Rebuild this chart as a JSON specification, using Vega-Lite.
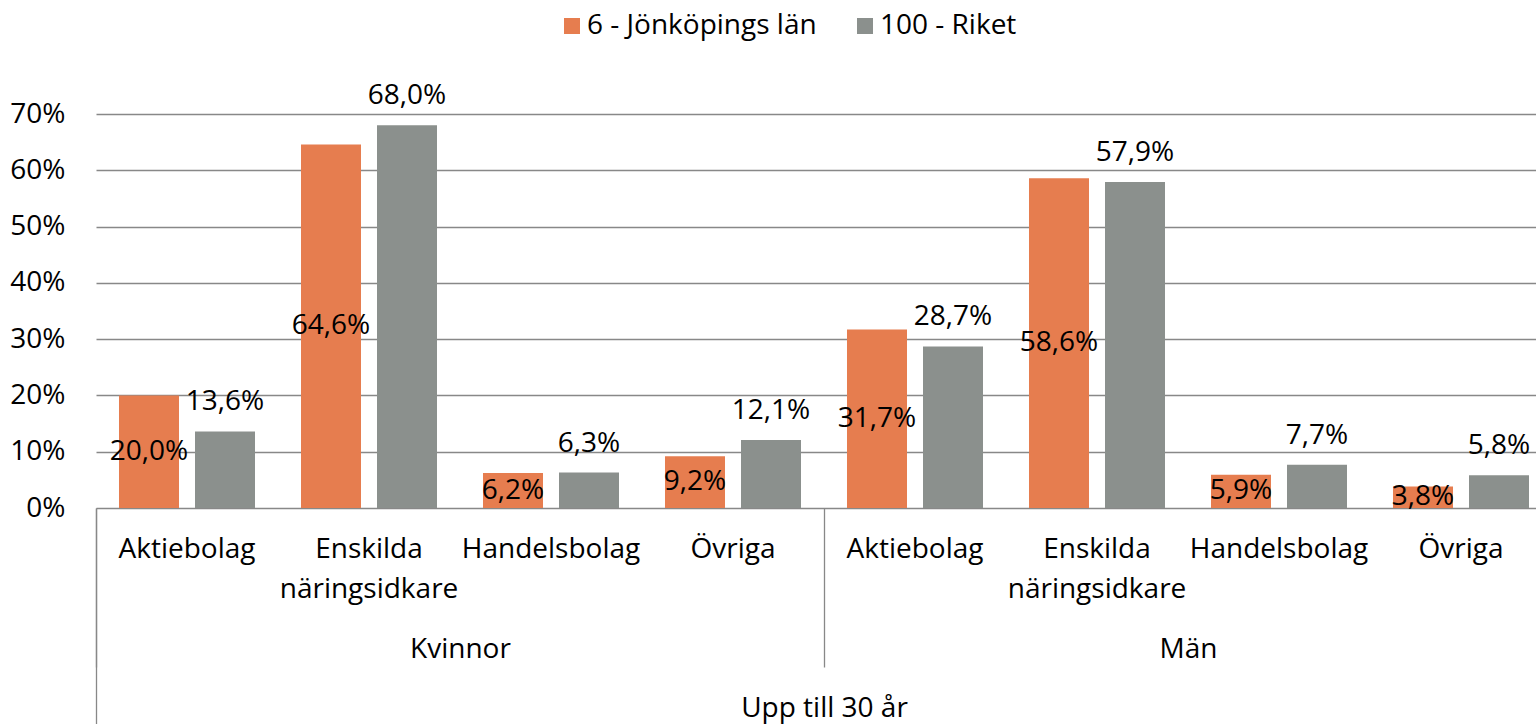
{
  "$schema": "https://vega.github.io/schema/vega-lite/v6.json",
  "width": 1456,
  "height": 394,
  "autosize": {"type": "none"},
  "padding": {"left": 96, "top": 114, "right": -16, "bottom": 216},
  "background": "white",
  "config": {
    "font": "Open Sans",
    "view": {"stroke": null},
    "locale": {"number": {"decimal": ",", "thousands": " ", "grouping": [3], "currency": ["", " kr"], "percent": "%"}},
    "axis": {"labelFont": "Open Sans", "labelFontSize": 28, "labelColor": "#000000", "title": null}
  },
  "data": {
    "values": [
      {"alder": "Upp till 30 år", "kon": "Kvinnor", "grupp": "Kvinnor/Aktiebolag", "serie": "6 - Jönköpings län", "andel": 0.200},
      {"alder": "Upp till 30 år", "kon": "Kvinnor", "grupp": "Kvinnor/Aktiebolag", "serie": "100 - Riket", "andel": 0.136},
      {"alder": "Upp till 30 år", "kon": "Kvinnor", "grupp": "Kvinnor/Enskilda näringsidkare", "serie": "6 - Jönköpings län", "andel": 0.646},
      {"alder": "Upp till 30 år", "kon": "Kvinnor", "grupp": "Kvinnor/Enskilda näringsidkare", "serie": "100 - Riket", "andel": 0.680},
      {"alder": "Upp till 30 år", "kon": "Kvinnor", "grupp": "Kvinnor/Handelsbolag", "serie": "6 - Jönköpings län", "andel": 0.062},
      {"alder": "Upp till 30 år", "kon": "Kvinnor", "grupp": "Kvinnor/Handelsbolag", "serie": "100 - Riket", "andel": 0.063},
      {"alder": "Upp till 30 år", "kon": "Kvinnor", "grupp": "Kvinnor/Övriga", "serie": "6 - Jönköpings län", "andel": 0.092},
      {"alder": "Upp till 30 år", "kon": "Kvinnor", "grupp": "Kvinnor/Övriga", "serie": "100 - Riket", "andel": 0.121},
      {"alder": "Upp till 30 år", "kon": "Män", "grupp": "Män/Aktiebolag", "serie": "6 - Jönköpings län", "andel": 0.317},
      {"alder": "Upp till 30 år", "kon": "Män", "grupp": "Män/Aktiebolag", "serie": "100 - Riket", "andel": 0.287},
      {"alder": "Upp till 30 år", "kon": "Män", "grupp": "Män/Enskilda näringsidkare", "serie": "6 - Jönköpings län", "andel": 0.586},
      {"alder": "Upp till 30 år", "kon": "Män", "grupp": "Män/Enskilda näringsidkare", "serie": "100 - Riket", "andel": 0.579},
      {"alder": "Upp till 30 år", "kon": "Män", "grupp": "Män/Handelsbolag", "serie": "6 - Jönköpings län", "andel": 0.059},
      {"alder": "Upp till 30 år", "kon": "Män", "grupp": "Män/Handelsbolag", "serie": "100 - Riket", "andel": 0.077},
      {"alder": "Upp till 30 år", "kon": "Män", "grupp": "Män/Övriga", "serie": "6 - Jönköpings län", "andel": 0.038},
      {"alder": "Upp till 30 år", "kon": "Män", "grupp": "Män/Övriga", "serie": "100 - Riket", "andel": 0.058}
    ]
  },
  "layer": [
    {
      "encoding": {
        "x": {
          "field": "grupp", "type": "nominal", "sort": null,
          "scale": {"paddingInner": 0, "paddingOuter": 0},
          "axis": {"orient": "bottom", "title": null, "domain": false, "ticks": false, "grid": false, "labelAngle": 0, "labelPadding": 27, "labelLineHeight": 40, "labelLimit": 500, "labelExpr": "split(split(datum.value, '/')[1], ' ')", "labelFontSize": 28, "labelColor": "#000000"}
        },
        "xOffset": {"field": "serie", "type": "nominal", "sort": ["6 - Jönköpings län", "100 - Riket"], "scale": {"paddingInner": 0.2105, "paddingOuter": 0.3026}}
      },
      "layer": [
        {
          "mark": {"type": "bar"},
          "encoding": {
            "y": {
              "field": "andel", "type": "quantitative",
              "scale": {"domain": [0, 0.7], "nice": false, "zero": true},
              "axis": {"title": null, "format": ".0%", "values": [0, 0.1, 0.2, 0.3, 0.4, 0.5, 0.6, 0.7], "domain": false, "ticks": false, "grid": true, "gridColor": "#888888", "gridWidth": 1.3, "labelPadding": 31, "labelFontSize": 28, "labelColor": "#000000"}
            },
            "color": {
              "field": "serie", "type": "nominal",
              "scale": {"domain": ["6 - Jönköpings län", "100 - Riket"], "range": ["#E67D4F", "#8B908D"]},
              "legend": {"orient": "none", "legendX": 462, "legendY": -102, "direction": "horizontal", "title": null, "labelFontSize": 28, "labelColor": "#000000", "labelLimit": 500, "symbolType": "square", "symbolSize": 256, "symbolStrokeWidth": 0, "labelOffset": 1, "columnPadding": 34, "padding": 0}
            }
          }
        },
        {
          "transform": [{"filter": "datum.serie === '6 - Jönköpings län'"}],
          "mark": {"type": "text", "fontSize": 28, "color": "#000000", "baseline": "middle"},
          "encoding": {
            "y": {"field": "andel", "type": "quantitative", "scale": {"domain": [0, 1.4], "nice": false, "zero": true}, "axis": null},
            "text": {"field": "andel", "type": "quantitative", "format": ".1%"}
          }
        },
        {
          "transform": [{"filter": "datum.serie === '100 - Riket'"}],
          "mark": {"type": "text", "fontSize": 28, "color": "#000000", "baseline": "middle", "dy": -29},
          "encoding": {
            "y": {"field": "andel", "type": "quantitative", "scale": {"domain": [0, 0.7], "nice": false, "zero": true}, "axis": null},
            "text": {"field": "andel", "type": "quantitative", "format": ".1%"}
          }
        }
      ],
      "resolve": {"scale": {"y": "independent"}, "axis": {"y": "independent"}}
    },
    {
      "mark": {"type": "point", "opacity": 0},
      "encoding": {
        "x": {
          "field": "kon", "type": "nominal", "sort": null,
          "scale": {"type": "band", "paddingInner": 0, "paddingOuter": 0},
          "axis": {"orient": "bottom", "title": null, "domain": false, "grid": false, "ticks": true, "tickBand": "extent", "tickSize": 159, "tickColor": "#888888", "tickWidth": 1.3, "labelPadding": -32, "labelAngle": 0, "labelFontSize": 28, "labelColor": "#000000"}
        }
      }
    },
    {
      "mark": {"type": "point", "opacity": 0},
      "encoding": {
        "x": {
          "field": "alder", "type": "nominal",
          "scale": {"type": "band", "paddingInner": 0, "paddingOuter": 0},
          "axis": {"orient": "bottom", "title": null, "domain": false, "grid": false, "ticks": true, "tickBand": "extent", "tickSize": 216, "tickColor": "#888888", "tickWidth": 1.3, "labelPadding": -30, "labelAngle": 0, "labelFontSize": 28, "labelColor": "#000000"}
        }
      }
    }
  ],
  "resolve": {"scale": {"x": "independent"}, "axis": {"x": "independent"}}
}
